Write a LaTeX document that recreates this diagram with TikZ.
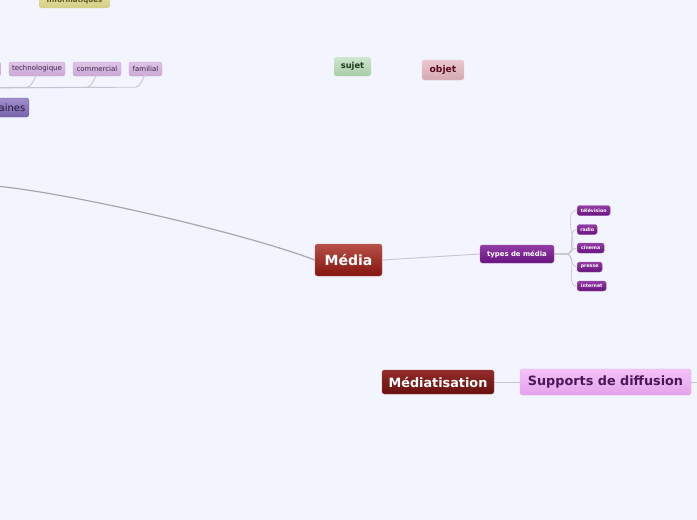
\documentclass[tikz,border=0pt]{standalone}
\usepackage{fontspec}
\setmainfont{DejaVu Sans}
\usepackage{tikz}

\definecolor{fond}{HTML}{F2F5FE}
\definecolor{lien}{HTML}{C6C6CE}
\definecolor{lienfort}{HTML}{A8A8AC}
\definecolor{infoH}{HTML}{E4E0A0}
\definecolor{infoB}{HTML}{D4CE86}
\definecolor{infoT}{HTML}{5A5420}
\definecolor{lilasD}{HTML}{C8A0D2}
\definecolor{lilasH}{HTML}{DEC4E6}
\definecolor{lilasB}{HTML}{CCA8D8}
\definecolor{lilasT}{HTML}{3A2848}
\definecolor{humD}{HTML}{6E5AA0}
\definecolor{humH}{HTML}{A08ECE}
\definecolor{humB}{HTML}{7864AA}
\definecolor{humT}{HTML}{241838}
\definecolor{sujetH}{HTML}{CEE6CE}
\definecolor{sujetB}{HTML}{A8CCA8}
\definecolor{sujetT}{HTML}{1E3A1E}
\definecolor{objetD}{HTML}{E6C8CE}
\definecolor{objetH}{HTML}{EAC8CE}
\definecolor{objetB}{HTML}{D4A8B0}
\definecolor{objetT}{HTML}{5A0A1E}
\definecolor{mediaD}{HTML}{BE6460}
\definecolor{mediaH}{HTML}{B65048}
\definecolor{mediaB}{HTML}{86140E}
\definecolor{typeD}{HTML}{9650AA}
\definecolor{typeH}{HTML}{923CA6}
\definecolor{typeB}{HTML}{68147E}
\definecolor{mtsD}{HTML}{964646}
\definecolor{mtsH}{HTML}{922C2A}
\definecolor{mtsB}{HTML}{68100E}
\definecolor{suppD}{HTML}{E2AAE8}
\definecolor{suppH}{HTML}{F4C2F8}
\definecolor{suppB}{HTML}{E4A2EC}
\definecolor{suppT}{HTML}{4A1858}

\begin{document}
\begin{tikzpicture}[x=1pt, y=-1pt,
    every node/.style={inner sep=0pt, rounded corners=2.5pt},
    lilas/.style={draw=lilasD, top color=lilasH, bottom color=lilasB, minimum height=14, text=lilasT, font=\fontsize{7}{7}\selectfont},
    link/.style={draw=lien, line width=0.9pt},
    pt/.style={font=\fontsize{#1}{#1}\selectfont\bfseries}]
    \useasboundingbox (0,0) rectangle (697,520);
    \clip (0,0) rectangle (697,520);
    \fill[fond] (0,0) rectangle (697,520);

    % haut a gauche
    \node[top color=infoH, bottom color=infoB, minimum width=71, minimum height=15, text=infoT, pt=7] (info) at (74.5,0.5) {Informatiques};
    \node[lilas, minimum width=30, anchor=east] (autre) at (1,69) {};
    \node[lilas, minimum width=56] (techno) at (37,69) {technologique};
    \node[lilas, minimum width=48] (commerce) at (97,69) {commercial};
    \node[lilas, minimum width=33] (famille) at (145.5,69) {familial};
    \coordinate (domaine) at (-30,88);
    \draw[link] (techno.south) to[out=90,in=0] ++(-10,11) -- (domaine);
    \draw[link] (commerce.south) to[out=90,in=0] ++(-10,11) -- (domaine);
    \draw[link] (famille.south) to[out=90,in=0] ++(-10,11) -- (domaine);
    \node[draw=humD, top color=humH, bottom color=humB, text width=60pt, align=right, minimum height=19, text=humT, font=\fontsize{10}{10}\selectfont, anchor=east] (humain) at (29,107.5) {aines\hspace*{3.5pt}};

    % sujet / objet
    \node[top color=sujetH, bottom color=sujetB, minimum width=37, minimum height=19, text=sujetT, pt=8.3] (sujet) at (352.5,66.5) {sujet};
    \node[draw=objetD, top color=objetH, bottom color=objetB, minimum width=42, minimum height=20, text=objetT, pt=9.2] (objet) at (443,70) {objet};

    % Media
    \node[draw=mediaD, top color=mediaH, bottom color=mediaB, minimum width=67, minimum height=32, text=white, pt=14] (media) at (348.5,260) {Média};
    \coordinate (gauche) at (-10,185.5);
    \draw[draw=lienfort, line width=1.2pt] (gauche) .. controls (65,191.5) and (244,233) .. (media.west);
    \node[draw=typeD, top color=typeH, bottom color=typeB, minimum width=74, minimum height=18, text=white, pt=6.9] (types) at (517,254) {types de média};
    \draw[link] (media.east) -- (types.west);

    \foreach \nom/\lg/\y in {télévision/33/210.5, radio/20/229.5, cinema/27/248, presse/25/267, internet/29/286} {
        \node[draw=typeD, top color=typeH, bottom color=typeB, minimum width=\lg, minimum height=10, text=white, pt=4.7, anchor=west] (t-\lg) at (577,\y) {\nom};
        \draw[link, line width=0.7pt] (types.east) -- ++(12,0) to[out=0,in=180] (t-\lg.west);
    }

    % Mediatisation
    \node[draw=mtsD, top color=mtsH, bottom color=mtsB, minimum width=112, minimum height=24, text=white, pt=12.8] (mediatis) at (438,382) {Médiatisation};
    \node[draw=suppD, top color=suppH, bottom color=suppB, minimum width=171, minimum height=26, text=suppT, pt=12.8] (supports) at (605.5,382) {Supports de diffusion};
    \coordinate (droite) at (710,382);
    \draw[link] (mediatis.east) -- (supports.west);
    \draw[link] (supports.east) -- (droite);
\end{tikzpicture}
\end{document}
